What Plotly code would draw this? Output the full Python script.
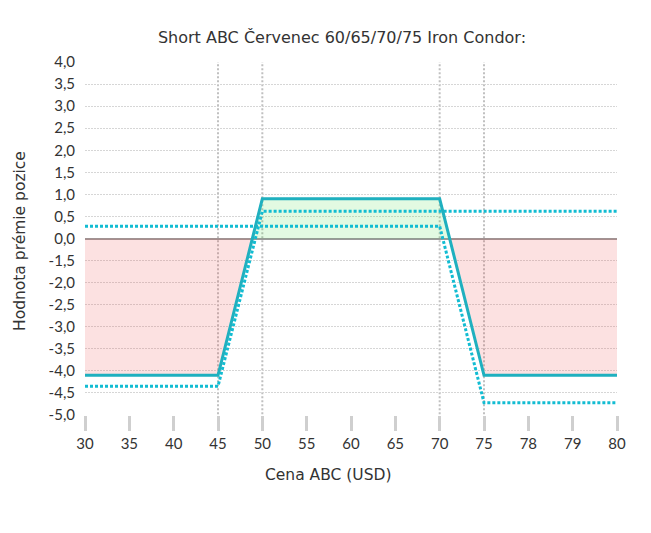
import plotly.graph_objects as go

# ---- data ----
price_labels = [30, 35, 40, 45, 50, 55, 60, 65, 70, 75, 78, 79, 80]
y_labels = ["4,0", "3,5", "3,0", "2,5", "2,0", "1,5", "1,0", "0,5", "0,0",
            "-1,5", "-2,0", "-2,5", "-3,0", "-3,5", "-4,0", "-4,5", "-5,0"]

condor_prices = [30, 45, 50, 70, 75, 80]
condor_values = [-4.1, -4.1, 0.9, 0.9, -4.1, -4.1]

call_prices = [30, 70, 75, 80]
call_values = [0.28, 0.28, -4.72, -4.72]

put_prices = [30, 45, 50, 80]
put_values = [-4.35, -4.35, 0.62, 0.62]

strike_prices = [45, 50, 70, 75]


# the chart's axes are evenly spaced labels; negative labels skip -0,5 and -1,0
def xpos(p):
    return price_labels.index(p)


def ypos(v):
    return v if v >= 0 else v + 1.0


def lab2num(s):
    return float(s.replace(",", "."))


LINE = "#1fb0bf"
DOT = "#12bcd2"

fig = go.Figure()

# fills: split condor curve at zero crossings
cx = [xpos(p) for p in condor_prices]
cy = [ypos(v) for v in condor_values]
segs = []
cur = [(cx[0], cy[0])]
for i in range(1, len(cx)):
    x0, y0, x1, y1 = cx[i - 1], cy[i - 1], cx[i], cy[i]
    if (y0 < 0) != (y1 < 0):
        xc = x0 + (x1 - x0) * (0 - y0) / (y1 - y0)
        cur.append((xc, 0))
        segs.append(cur)
        cur = [(xc, 0)]
    cur.append((x1, y1))
segs.append(cur)
for seg in segs:
    xs = [p[0] for p in seg]
    ys = [p[1] for p in seg]
    positive = sum(ys) / len(ys) > 0
    px = [xs[0]] + xs + [xs[-1]]
    py = [0] + ys + [0]
    fig.add_trace(go.Scatter(
        x=px, y=py, mode="lines", fill="toself",
        fillcolor="rgba(60,220,60,0.15)" if positive else "rgba(240,80,80,0.17)",
        line=dict(width=0), hoverinfo="skip", showlegend=False))

fig.add_trace(go.Scatter(
    x=[xpos(p) for p in call_prices], y=[ypos(v) for v in call_values],
    mode="lines", line=dict(color=DOT, width=3, dash="3px,2px"), showlegend=False))
fig.add_trace(go.Scatter(
    x=[xpos(p) for p in put_prices], y=[ypos(v) for v in put_values],
    mode="lines", line=dict(color=DOT, width=3, dash="3px,2px"), showlegend=False))
fig.add_trace(go.Scatter(
    x=cx, y=cy, mode="lines", line=dict(color=LINE, width=3), showlegend=False))

for p in strike_prices:
    fig.add_shape(type="line", xref="x", yref="paper", x0=xpos(p), x1=xpos(p),
                  y0=-0.043, y1=1, layer="below",
                  line=dict(color="#c0c0c0", width=2, dash="2px,2px"))

tick_font = dict(family="Lato, 'Open Sans', sans-serif", size=15, color="#333333")
title_font = dict(family="'DejaVu Sans', Verdana, sans-serif", size=15.5, color="#333333")

# page body has an 8px offset
L, T = 77, 54
PW, PH = 532, 353
fig.update_layout(
    width=651, height=533,
    margin=dict(l=L, r=651 - L - PW, t=T, b=533 - T - PH),
    plot_bgcolor="white", paper_bgcolor="white",
    title=dict(text="Short ABC Červenec 60/65/70/75 Iron Condor:",
               x=334 / 651, xanchor="center", y=1 - 29 / 533, yanchor="middle",
               font=dict(family=title_font["family"], size=16, color="#333333")),
    xaxis=dict(range=[0, len(price_labels) - 1],
               tickvals=list(range(len(price_labels))),
               ticktext=[str(p) for p in price_labels],
               showgrid=False, zeroline=False, showline=False,
               ticks="outside", ticklen=15, tickwidth=3, tickcolor="#cfcfcf",
               tickfont=tick_font),
    yaxis=dict(range=[ypos(lab2num(y_labels[-1])), ypos(lab2num(y_labels[0]))],
               tickvals=[ypos(lab2num(s)) for s in y_labels],
               ticktext=y_labels,
               showgrid=True, gridcolor="#d6d6d6", gridwidth=1, griddash="2px,1px",
               zeroline=True, zerolinecolor="#9a9a9a", zerolinewidth=2,
               showline=False, ticks="outside", ticklen=6, tickcolor="rgba(0,0,0,0)",
               tickfont=tick_font),
    annotations=[
        dict(text="Cena ABC (USD)", xref="paper", yref="paper",
             x=(320 - L) / PW, y=(T + PH - 467) / PH, xanchor="center", yanchor="middle",
             showarrow=False, font=title_font),
        dict(text="Hodnota prémie pozice", xref="paper", yref="paper",
             x=(12 - L) / PW, y=(T + PH - 233) / PH, xanchor="center", yanchor="middle",
             textangle=-90, showarrow=False, font=title_font),
    ],
)

fig.write_html("out.html")
